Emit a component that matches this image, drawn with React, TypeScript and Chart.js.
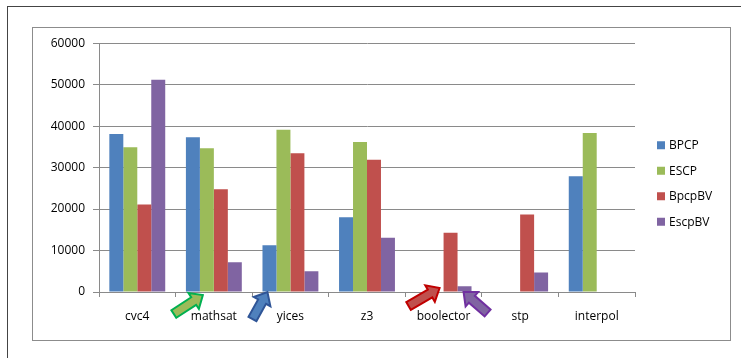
import React, { useEffect, useRef } from "react";
import { Chart, registerables } from "chart.js";

Chart.register(...registerables);

const categories = ["cvc4", "mathsat", "yices", "z3", "boolector", "stp", "interpol"];
const seriesNames = ["BPCP", "ESCP", "BpcpBV", "EscpBV"];
const bpcp = [38100, 37300, 11300, 18000, null, null, 27900];
const escp = [34900, 34650, 39150, 36200, null, null, 38350];
const bpcpBV = [21100, 24800, 33450, 31900, 14300, 18700, null];
const escpBV = [51200, 7150, 5000, 13100, 1400, 4700, null];
const yTicksMax = 60000;
const yTickStep = 10000;

const seriesColors = ["#4f81bd", "#9bbb59", "#c0504d", "#8064a2"];

// decorative arrows: category index, tail/tip offsets from category centre and zero line
const arrows = [
  { cat: 1, tail: [-40, 22], tip: [-11, 3], fill: "#9bbb59", stroke: "#00b050" },
  { cat: 2, tail: [-38, 27], tip: [-23, 0], fill: "#4f81bd", stroke: "#2f5597" },
  { cat: 4, tail: [-35, 14], tip: [-4, -4], fill: "#c0504d", stroke: "#c00000" },
  { cat: 4, tail: [44, 21], tip: [20, 0], fill: "#8064a2", stroke: "#7030a0" },
];

const FONT = "'Open Sans', 'Liberation Sans', sans-serif";

function drawArrow(ctx: CanvasRenderingContext2D, tx: number, ty: number, hx: number, hy: number, fill: string, stroke: string) {
  const dx = hx - tx, dy = hy - ty;
  const len = Math.hypot(dx, dy);
  const ux = dx / len, uy = dy / len;
  const nx = -uy, ny = ux;
  const sw = 4.5, hw = 9.5, hl = 11;
  const bx = hx - ux * hl, by = hy - uy * hl;
  ctx.save();
  ctx.beginPath();
  ctx.moveTo(tx + nx * sw, ty + ny * sw);
  ctx.lineTo(bx + nx * sw, by + ny * sw);
  ctx.lineTo(bx + nx * hw, by + ny * hw);
  ctx.lineTo(hx, hy);
  ctx.lineTo(bx - nx * hw, by - ny * hw);
  ctx.lineTo(bx - nx * sw, by - ny * sw);
  ctx.lineTo(tx - nx * sw, ty - ny * sw);
  ctx.closePath();
  ctx.fillStyle = fill;
  ctx.fill();
  ctx.lineWidth = 2;
  ctx.lineJoin = "miter";
  ctx.strokeStyle = stroke;
  ctx.stroke();
  ctx.restore();
}

const decoPlugin = {
  id: "deco",
  afterDatasetsDraw(chart: any) {
    const ctx = chart.ctx as CanvasRenderingContext2D;
    const xs = chart.scales.x;
    const ys = chart.scales.y;
    const y0 = ys.getPixelForValue(0);
    arrows.forEach((a) => {
      const cx = xs.getPixelForValue(a.cat);
      drawArrow(ctx, cx + a.tail[0], y0 + a.tail[1], cx + a.tip[0], y0 + a.tip[1], a.fill, a.stroke);
    });
  },
  afterDraw(chart: any) {
    const ctx = chart.ctx as CanvasRenderingContext2D;
    const area = chart.chartArea;
    const midY = chart.height / 2;
    const gap = 25.5;
    const n = chart.data.datasets.length;
    ctx.save();
    ctx.font = `12px ${FONT}`;
    ctx.textBaseline = "middle";
    ctx.textAlign = "left";
    chart.data.datasets.forEach((ds: any, i: number) => {
      const y = midY + (i - (n - 1) / 2) * gap;
      const x = area.right + 22;
      ctx.fillStyle = ds.backgroundColor;
      ctx.fillRect(x, y - 4, 8, 8);
      ctx.fillStyle = "#000";
      ctx.fillText(ds.label, x + 12, y + 0.5);
    });
    ctx.restore();
  },
};

export default function App() {
  const ref = useRef<HTMLCanvasElement | null>(null);
  useEffect(() => {
    if (!ref.current) return;
    const series = [bpcp, escp, bpcpBV, escpBV];
    const chart = new Chart(ref.current, {
      type: "bar",
      data: {
        labels: categories,
        datasets: series.map((d, i) => ({
          label: seriesNames[i],
          data: d,
          backgroundColor: seriesColors[i],
          borderWidth: 0,
          categoryPercentage: 0.73,
          barPercentage: 1,
        })),
      },
      options: {
        animation: false,
        responsive: false,
        maintainAspectRatio: false,
        layout: { padding: { top: 15, right: 94, bottom: 0, left: 0 } },
        plugins: {
          legend: { display: false },
          tooltip: { enabled: false },
        },
        scales: {
          x: {
            z: 1,
            grid: {
              display: true,
              drawOnChartArea: false,
              drawTicks: true,
              tickLength: 5,
              color: "#8a8a8a",
              offset: true,
            },
            border: { color: "#8a8a8a", width: 1 },
            ticks: { color: "#000", font: { family: FONT, size: 12 }, padding: 12, maxRotation: 0 },
            afterFit: (s: any) => { s.height = 47; },
          },
          y: {
            min: 0,
            max: yTicksMax,
            grid: { color: "#8a8a8a", tickLength: 6, drawTicks: true },
            border: { color: "#8a8a8a", width: 1 },
            ticks: {
              stepSize: yTickStep,
              color: "#000",
              font: { family: FONT, size: 12 },
              padding: 8,
              callback: (v: any) => String(v),
            },
            afterFit: (s: any) => { s.width = 66; },
          },
        },
      },
      plugins: [decoPlugin],
    });
    return () => chart.destroy();
  }, []);

  return (
    <div>
      <div
        style={{
          position: "absolute",
          left: 7,
          top: 6,
          width: 740,
          height: 360,
          borderTop: "1px solid #444",
          borderLeft: "1px solid #444",
          boxSizing: "border-box",
        }}
      />
      <div
        style={{
          position: "absolute",
          left: 32,
          top: 27,
          width: 699,
          height: 314,
          border: "1px solid #8c8c8c",
          boxSizing: "border-box",
          background: "#fff",
        }}
      />
      <canvas
        ref={ref}
        width={696}
        height={311}
        style={{ position: "absolute", left: 33, top: 28, width: 696, height: 311 }}
      />
    </div>
  );
}
